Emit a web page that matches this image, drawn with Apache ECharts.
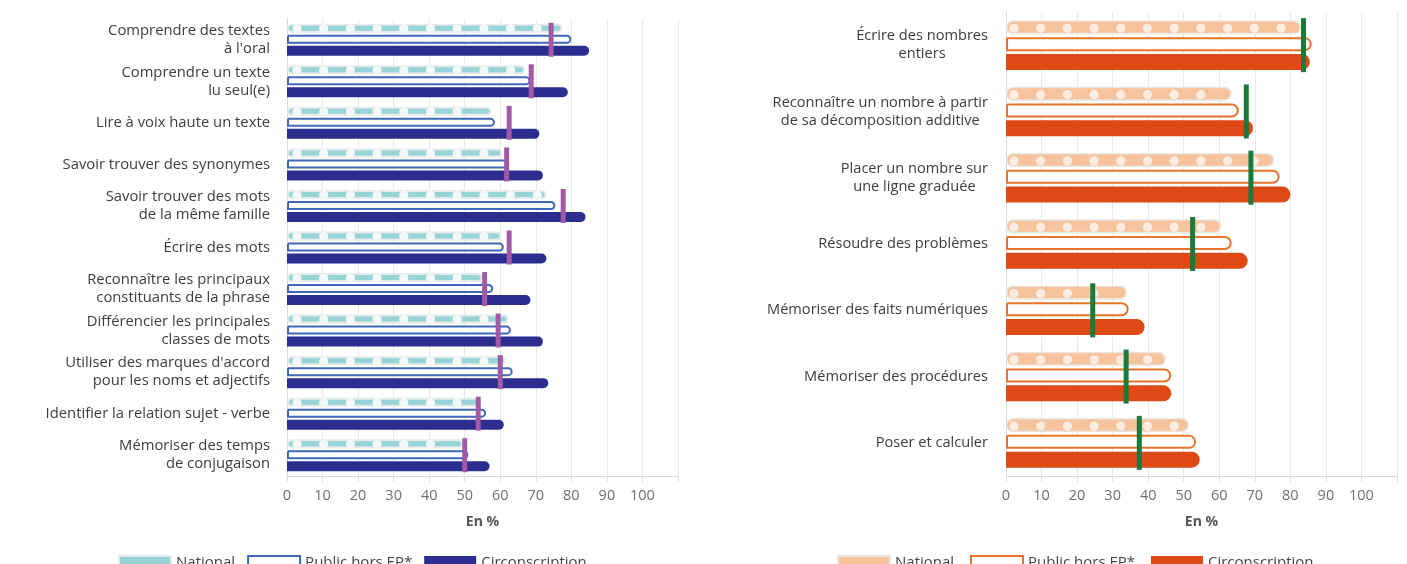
<!DOCTYPE html>
<html><head><meta charset="utf-8">
<script src="https://cdn.jsdelivr.net/npm/echarts@6/dist/echarts.min.js"></script>
<style>html,body{margin:0;padding:0;background:#fff}#c{width:1407px;height:564px}</style>
</head><body><div id="c"></div>
<script>
const leftCats = [
  "Comprendre des textes\nà l'oral",
  "Comprendre un texte\nlu seul(e)",
  "Lire à voix haute un texte",
  "Savoir trouver des synonymes",
  "Savoir trouver des mots\nde la même famille",
  "Écrire des mots",
  "Reconnaître les principaux\nconstituants de la phrase",
  "Différencier les principales\nclasses de mots",
  "Utiliser des marques d'accord\npour les noms et adjectifs",
  "Identifier la relation sujet - verbe",
  "Mémoriser des temps\nde conjugaison"
];
const leftNational = [77.5, 67, 57.5, 60.5, 73, 60.3, 55, 62.3, 61.5, 54, 49.5];
const leftPublic   = [80, 68.5, 58.5, 62.5, 75.5, 61, 58, 63, 63.5, 56, 51];
const leftCirc     = [85, 79, 71, 72, 84, 73, 68.5, 72, 73.5, 61, 57];
const leftMarker   = [74.3, 68.7, 62.5, 61.8, 77.7, 62.5, 55.6, 59.4, 60, 53.8, 50];

const rightCats = [
  "Écrire des nombres\nentiers",
  "Reconnaître un nombre à partir\nde sa décomposition additive",
  "Placer un nombre sur\nune ligne graduée",
  "Résoudre des problèmes",
  "Mémoriser des faits numériques",
  "Mémoriser des procédures",
  "Poser et calculer"
];
const rightNational = [83, 63.5, 75.5, 60.5, 34, 45, 51.5];
const rightPublic   = [86, 65.5, 77, 63.5, 34.5, 46.5, 53.5];
const rightCirc     = [85.5, 69.5, 80, 68, 39, 46.5, 54.5];
const rightMarker   = [83.7, 67.6, 68.9, 52.5, 24.4, 33.8, 37.5];

const tickLabels = [0,10,20,30,40,50,60,70,80,90,100];

const FONT = "Open Sans";
const chart = echarts.init(document.getElementById('c'));

function xAxisCfg(gi){
  return {
    type:'value', gridIndex:gi, min:0, max:110, interval:10,
    name:'En %', nameLocation:'middle', nameGap:39,
    nameTextStyle:{fontFamily:FONT, fontSize:14, fontWeight:'bold', color:'#555'},
    axisLine:{show:true, lineStyle:{color:'#d9d9d9'}},
    axisTick:{show:true, length:6, lineStyle:{color:'#e0e0e0'}},
    axisLabel:{fontFamily:FONT, fontSize:14.5, color:'#707070', margin:12,
      formatter: v => tickLabels.indexOf(v) >= 0 ? String(v) : ''},
    splitLine:{show:true, lineStyle:{color:'#e8e8e8'}}
  };
}

function dotSeries(name, xi, data, bw, gap, color, r, first, step){
  return {
    type:'custom', name:name, xAxisIndex:xi, yAxisIndex:xi, z:4,
    data: data.map((v,i)=>[v, i]),
    renderItem:(params, api)=>{
      const v = api.value(0), ci = api.value(1);
      const s = api.coord([0, ci]); const e = api.coord([v, ci]);
      const cy = s[1] - (bw + gap);
      const children = [];
      for (let cx = s[0] + first; cx + r + 3 <= e[0]; cx += step){
        children.push({type:'circle', shape:{cx:cx, cy:cy, r:r}, style:{fill:color}});
      }
      return {type:'group', children:children};
    },
    silent:true
  };
}

function richLabel(v){
  return v.split('\n').map(l => '{c|' + l + '}').join('\n');
}

const LBW = 9, LGAP = 2, RBW = 14, RGAP = 2.8;

chart.setOption({
  animation:false,
  grid:[
    {left:287, width:391, top:19, height:457},
    {left:1006, width:391, top:12, height:464}
  ],
  xAxis:[xAxisCfg(0), xAxisCfg(1)],
  yAxis:[
    {type:'category', gridIndex:0, data:leftCats, inverse:true,
     axisLine:{show:true, lineStyle:{color:'#d9d9d9'}}, axisTick:{show:false},
     axisLabel:{fontFamily:FONT, fontSize:14.8, color:'#3d3d3d', margin:17, lineHeight:18}},
    {type:'category', gridIndex:1, data:rightCats, inverse:true,
     axisLine:{show:true, lineStyle:{color:'#d9d9d9'}}, axisTick:{show:false},
     axisLabel:{margin:18, formatter:richLabel,
       rich:{c:{align:'center', fontFamily:FONT, fontSize:14.6, color:'#3d3d3d', lineHeight:18}}}}
  ],
  legend:[
    {left:113, top:550, itemWidth:52, itemHeight:14, itemGap:12,
     textStyle:{fontFamily:FONT, fontSize:15, color:'#444'},
     data:[{name:'National', icon:'rect'}, {name:'Public hors EP*', icon:'rect'}, {name:'Circonscription', icon:'rect'}]},
    {left:832, top:550, itemWidth:52, itemHeight:14, itemGap:12,
     textStyle:{fontFamily:FONT, fontSize:15, color:'#444'},
     data:[{name:'National ', icon:'rect'}, {name:'Public hors EP* ', icon:'rect'}, {name:'Circonscription ', icon:'rect'}]}
  ],
  series:[
    {type:'bar', name:'National', xAxisIndex:0, yAxisIndex:0, data:leftNational,
     barWidth:LBW, barGap:(LGAP/LBW*100)+'%', z:2,
     itemStyle:{color:'#98d3d5', borderColor:'#e3eaec', borderWidth:2, borderRadius:4.5}},
    {type:'bar', name:'Public hors EP*', xAxisIndex:0, yAxisIndex:0, data:leftPublic,
     barWidth:LBW, z:2,
     itemStyle:{color:'#ffffff', borderColor:'#3f68b8', borderWidth:2, borderRadius:[0,4.5,4.5,0]}},
    {type:'bar', name:'Circonscription', xAxisIndex:0, yAxisIndex:0, data:leftCirc,
     barWidth:LBW+1, z:2,
     itemStyle:{color:'#2b2e8f', borderRadius:[0,5,5,0]}},
    dotSeries('dotsL', 0, leftNational, LBW, LGAP, '#f4f8f8', 4.6, 10, 26.7),
    {type:'scatter', name:'markL', xAxisIndex:0, yAxisIndex:0, z:6,
     data:leftMarker.map((v,i)=>[v, i]), symbol:'rect', symbolSize:[5,34],
     itemStyle:{color:'#a05aa6', opacity:1}, silent:true},

    {type:'bar', name:'National ', xAxisIndex:1, yAxisIndex:1, data:rightNational,
     barWidth:RBW, barGap:(RGAP/RBW*100)+'%', z:2,
     itemStyle:{color:'#f7c39c', borderColor:'#ebe5e0', borderWidth:1.5, borderRadius:7}},
    {type:'bar', name:'Public hors EP* ', xAxisIndex:1, yAxisIndex:1, data:rightPublic,
     barWidth:RBW, z:2,
     itemStyle:{color:'#ffffff', borderColor:'#e8742c', borderWidth:2, borderRadius:[0,7,7,0]}},
    {type:'bar', name:'Circonscription ', xAxisIndex:1, yAxisIndex:1, data:rightCirc,
     barWidth:RBW+2, z:2,
     itemStyle:{color:'#dd4a16', borderRadius:[0,8,8,0]}},
    dotSeries('dotsR', 1, rightNational, RBW, RGAP, '#fcece1', 4.6, 8, 26.7),
    {type:'scatter', name:'markR', xAxisIndex:1, yAxisIndex:1, z:6,
     data:rightMarker.map((v,i)=>[v, i]), symbol:'rect', symbolSize:[5,54],
     itemStyle:{color:'#1b7a3b', opacity:1}, silent:true}
  ]
});
</script></body></html>
